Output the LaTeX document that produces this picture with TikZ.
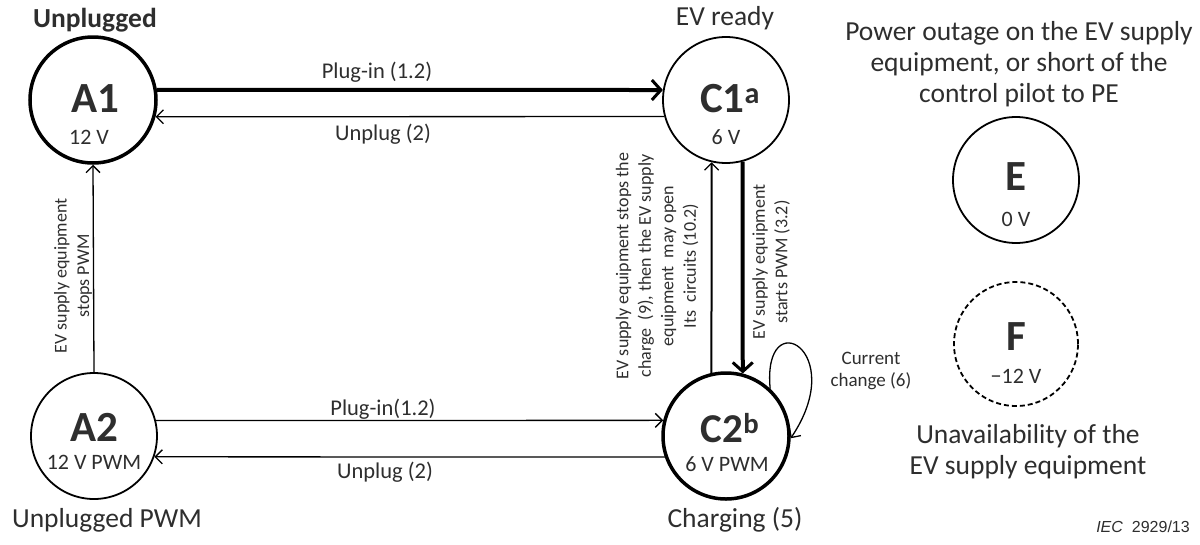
\documentclass[tikz,border=0pt]{standalone}
\usepackage{fontspec}
\setmainfont{Carlito}
\newfontfamily\arialfont{Liberation Sans}
\usetikzlibrary{arrows.meta}
\colorlet{txt}{black!82}
\tikzset{
  stthick/.style={circle,draw,line width=3.5pt,minimum size=126pt,inner sep=0pt},
  stthin/.style={circle,draw,line width=1.8pt,minimum size=126pt,inner sep=0pt},
  stdash/.style={circle,draw,line width=1.8pt,dash pattern=on 5pt off 3pt,minimum size=124pt,inner sep=0pt},
  title/.style={font=\fontsize{43}{46}\selectfont\bfseries,inner sep=0pt,text=txt},
  volt/.style={font=\fontsize{22}{24}\selectfont,inner sep=0pt,text=txt},
  desc/.style={font=\fontsize{27.5}{31}\selectfont,align=center,inner sep=0pt,text=txt},
  elab/.style={font=\fontsize{22.5}{24}\selectfont,inner sep=0pt,text=txt},
  rlab/.style={font=\fontsize{18}{22.5}\selectfont,align=center,rotate=90,inner sep=0pt,text=txt},
  thinarr/.style={line width=1.3pt,-{Straight Barb[length=7pt,width=14pt,line width=1.3pt]}},
  thickarr/.style={line width=4pt,-{Straight Barb[length=9pt,width=20pt,line width=3pt]}},
}
\begin{document}
\begin{tikzpicture}[x=1pt,y=-1pt]
\useasboundingbox (0,0) rectangle (1200,544);
% states
\node[stthick] (A1) at (93,100) {};
\node[stthin]  (C1) at (726,100) {};
\node[stthin]  (A2) at (94,436) {};
\node[stthick] (C2) at (726,436) {};
\node[stthin]  (E)  at (1016,180) {};
\node[stdash]  (F)  at (1016,344) {};
% state texts
\node[title] (A1t) at (95,99) {A1};
\node[volt]  (A1v) at (89,137) {12 V};
\node[title] (C1t) at (730,99) {C1\textsuperscript{a}};
\node[volt]  (C1v) at (726,137) {6 V};
\node[title] (A2t) at (94,427) {A2};
\node[volt]  (A2v) at (94,462) {12 V PWM};
\node[title,font=\fontsize{41}{44}\selectfont\bfseries] (C2t) at (730,428) {C2\textsuperscript{b}};
\node[volt]  (C2v) at (727,464) {6 V PWM};
\node[title] (Et)  at (1016,177) {E};
\node[volt]  (Ev)  at (1016,219) {0 V};
\node[title] (Ft)  at (1016,337) {F};
\node[volt]  (Fv)  at (1016,376) {\symbol{"2212}12 V};
% descriptions
\node[desc,font=\fontsize{27.5}{31}\selectfont\bfseries] (dA1) at (95,20) {Unplugged};
\node[desc] (dC1) at (725,18) {EV ready};
\node[desc] (dE) at (1019,64) {Power outage on the EV supply\\equipment, or short of the\\control pilot to PE};
\node[desc] (dF) at (1028,452) {Unavailability of the\\EV supply equipment};
\node[desc] (dA2) at (107,520) {Unplugged PWM};
\node[desc] (dC2) at (735,520) {Charging (5)};
\node[inner sep=0pt,font=\arialfont\fontsize{16}{18}\selectfont,text=txt] (iec) at (1143,527) {\textit{IEC}\ \ 2929/13};
% transitions
\draw[thickarr] (A1.9) -- (C1.171);
\draw[thinarr] (C1.-165) -- (A1.-15);
\draw[thinarr] (A2.north) -- (A1.south);
\draw[thinarr] (A2.14) -- (C2.166);
\draw[thinarr] (C2.-161) -- (A2.-19);
\draw[thinarr,line width=2pt] (C2.103) -- (C1.-103);
\draw[thickarr] (C1.-75) -- (C2.75);
\draw[thinarr] (C2.47) .. controls (762,302) and (850,350) .. (C2.-2);
% transition labels
\node[elab] (l1) at (377,72) {Plug-in (1.2)};
\node[elab] (l2) at (383,134) {Unplug (2)};
\node[elab] (l3) at (383,409) {Plug-in(1.2)};
\node[elab] (l4) at (385,472) {Unplug (2)};
\node[rlab] (l5) at (73,276) {EV supply equipment\\stops PWM};
\node[rlab] (l6) at (657,266) {EV supply equipment stops the\\charge\ \ (9), then the EV supply\\equipment\ \ may open\\Its\ \ circuits (10.2)};
\node[rlab] (l7) at (771,262) {EV supply equipment\\starts PWM (3.2)};
\node[elab,font=\fontsize{19}{22}\selectfont,align=center] (l8) at (871,371) {Current\\change (6)};
\end{tikzpicture}
\end{document}
